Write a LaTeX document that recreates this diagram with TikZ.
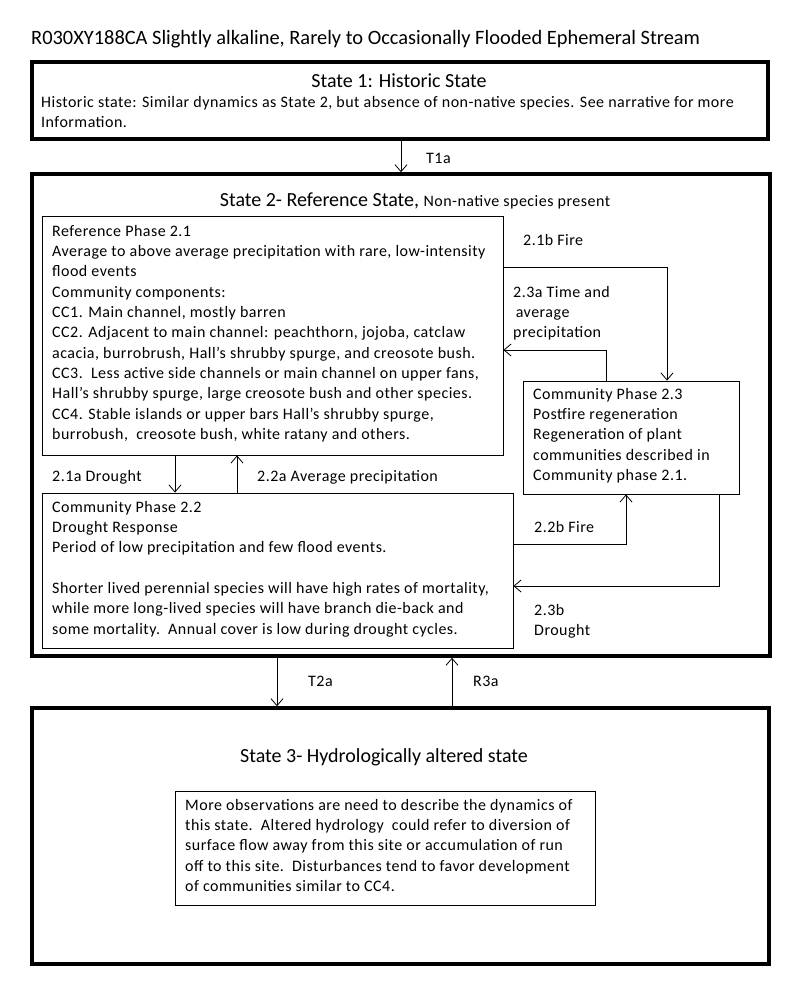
\documentclass[tikz,border=0pt]{standalone}
\usepackage{fontspec}
\setmainfont{Carlito}
\newfontfamily\bodyfont{Carlito}[LetterSpace=3]
\usetikzlibrary{arrows.meta}
\begin{document}
\begin{tikzpicture}[x=1pt,y=-1pt,
    arr/.style={-{Straight Barb[length=7pt,width=12pt]},line width=0.8pt},
    statebox/.style={draw,line width=3.5pt,inner sep=0pt},
    phasebox/.style={draw,line width=0.9pt,inner sep=0pt},
    txt/.style={anchor=north west,align=left,inner sep=0pt,font=\bodyfont\fontsize{16}{20.3}\selectfont},
    ttl/.style={inner sep=0pt,font=\fontsize{20}{22}\selectfont}]

  \useasboundingbox (0,0) rectangle (800,985);

  \node[anchor=west,inner sep=0pt,font=\fontsize{20.4}{22}\selectfont] (head) at (31,39)
    {R030XY188CA Slightly alkaline, Rarely to Occasionally Flooded Ephemeral Stream};

  \begin{scope}[every node/.style={statebox}]
    \node[minimum width=736pt,minimum height=77pt]  (s1) at (400,100.5) {};
    \node[minimum width=738pt,minimum height=482pt] (s2) at (401,415)   {};
    \node[minimum width=737pt,minimum height=256pt] (s3) at (400.5,836) {};
  \end{scope}

  \begin{scope}[every node/.style={phasebox}]
    \node[minimum width=461pt,minimum height=239pt] (p21) at (272.5,335.5) {};
    \node[minimum width=471pt,minimum height=155pt] (p22) at (277.5,570.5) {};
    \node[minimum width=216pt,minimum height=113pt] (p23) at (631,437.5)   {};
    \node[minimum width=420pt,minimum height=114pt] (p31) at (385,848)     {};
  \end{scope}

  \node[ttl] (s1title) at (399,81) {State 1: Historic State};
  \node[ttl] (s2title) at (415,201) {State 2- Reference State, {\bodyfont\fontsize{16}{18}\selectfont Non-native species present}};
  \node[ttl] (s3title) at (384,757) {State 3- Hydrologically altered state};

  \node[txt] (s1text) at (41,96) {Historic state: Similar dynamics as State 2, but absence of non-native species. See narrative for more\\Information.};

  \node[txt] (p21text) at (52,225) {Reference Phase 2.1\\
    Average to above average precipitation with rare, low-intensity\\
    flood events\\
    Community components:\\
    CC1. Main channel, mostly barren\\
    CC2. Adjacent to main channel: peachthorn, jojoba, catclaw\\
    acacia, burrobrush, Hall’s shrubby spurge, and creosote bush.\\
    CC3.\ \ Less active side channels or main channel on upper fans,\\
    Hall’s shrubby spurge, large creosote bush and other species.\\
    CC4. Stable islands or upper bars Hall’s shrubby spurge,\\
    burrobush,\ \ creosote bush, white ratany and others.};

  \node[txt] (p22text) at (52,501) {Community Phase 2.2\\
    Drought Response\\
    Period of low precipitation and few flood events.\\[20.3pt]
    Shorter lived perennial species will have high rates of mortality,\\
    while more long-lived species will have branch die-back and\\
    some mortality.\ \ Annual cover is low during drought cycles.};

  \node[txt] (p23text) at (533,388) {Community Phase 2.3\\
    Postfire regeneration\\
    Regeneration of plant\\
    communities described in\\
    Community phase 2.1.};

  \node[txt] (p31text) at (185,799) {More observations are need to describe the dynamics of\\
    this state.\ \ Altered hydrology\ \ could refer to diversion of\\
    surface flow away from this site or accumulation of run\\
    off to this site.\ \ Disturbances tend to favor development\\
    of communities similar to CC4.};

  % transition labels
  \node[txt] (t1a) at (426,153) {T1a};
  \node[txt] (l21b) at (523,234) {2.1b Fire};
  \node[txt] (l23a) at (513,286) {2.3a Time and\\ \,average\\precipitation};
  \node[txt] (l21a) at (52,470) {2.1a Drought};
  \node[txt] (l22a) at (257,470) {2.2a Average precipitation};
  \node[txt] (l22b) at (534,521) {2.2b Fire};
  \node[txt] (l23b) at (534,604) {2.3b\\Drought};
  \node[txt] (t2a) at (308,676) {T2a};
  \node[txt] (r3a) at (473,676) {R3a};

  \coordinate (f1) at (667,267);
  \coordinate (a3) at (606,350);
  \coordinate (f2) at (626,544);
  \coordinate (d3) at (719,586);

  \draw[arr] ([xshift=1pt]s1.south) -- ([xshift=0pt]s2.north);
  \draw[arr] (p21.south -| 175,0) -- (p22.north -| 175,0);
  \draw[arr] (p22.north -| 237,0) -- (p21.south -| 237,0);
  \draw[arr] (p21.east |- f1) -| (p23.north -| f1);
  \draw[arr] (p23.north -| a3) |- (p21.east |- a3);
  \draw[arr] (p22.east |- f2) -| (p23.south -| f2);
  \draw[arr] (p23.south -| d3) |- (p22.east |- d3);
  \draw[arr] (s2.south -| 277,0) -- (s3.north -| 277,0);
  \draw[arr] (s3.north -| 452,0) -- (s2.south -| 452,0);

\end{tikzpicture}
\end{document}
